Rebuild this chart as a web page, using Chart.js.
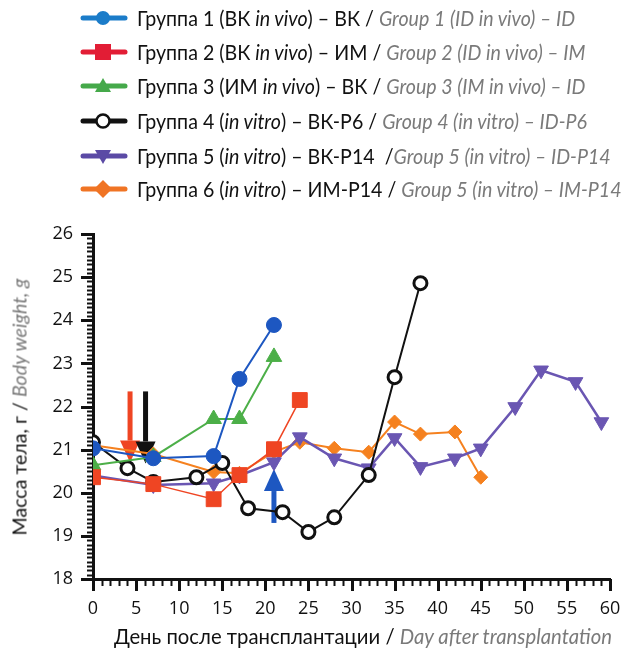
<!DOCTYPE html>
<html><head><meta charset="utf-8">
<script src="https://cdn.jsdelivr.net/npm/chart.js@4"></script>
<style>
html,body{margin:0;padding:0;background:#fff;}
#wrap{position:relative;width:623px;height:650px;overflow:hidden;font-family:Lato,"Open Sans",sans-serif;color:#111;}
#c{position:absolute;left:0;top:0;}
.row{position:absolute;left:80px;height:34px;display:flex;align-items:center;white-space:nowrap;font-size:20.5px;}
.row svg{margin-right:9px;flex:none}
.row .txt{display:inline-block;transform:scaleX(0.956);transform-origin:0 50%;}
.en{color:#7a7a7a;font-style:italic}
.ytitle{position:absolute;left:19px;top:407px;transform:translate(-50%,-50%) rotate(-90deg);white-space:nowrap;font-size:19.6px;}
.xtitle{position:absolute;left:363px;top:636px;transform:translate(-50%,-50%);white-space:nowrap;font-size:20.3px;}
</style></head>
<body>
<div id="wrap">
<canvas id="c" width="623" height="650"></canvas>
<div id="legend"></div>
<div class="ytitle">Масса тела, г / <span class="en">Body weight, g</span></div>
<div class="xtitle">День после трансплантации / <span class="en">Day after transplantation</span></div>
</div>
<script>
// ---- data ----
const daysG1 = [0, 7, 14, 17, 21];
const massG1 = [21.03, 20.80, 20.85, 22.64, 23.89];
const daysG2 = [0, 7, 14, 17, 21, 24];
const massG2 = [20.36, 20.20, 19.85, 20.41, 21.01, 22.15];
const daysG3 = [0, 7, 14, 17, 21];
const massG3 = [20.64, 20.83, 21.71, 21.71, 23.15];
const daysG4 = [0, 4, 7, 12, 15, 18, 22, 25, 28, 32, 35, 38];
const massG4 = [21.17, 20.57, 20.25, 20.36, 20.69, 19.64, 19.55, 19.09, 19.43, 20.41, 22.68, 24.86];
const daysG5 = [0, 7, 14, 17, 21, 24, 28, 32, 35, 38, 42, 45, 49, 52, 56, 59];
const massG5 = [20.40, 20.18, 20.22, 20.40, 20.71, 21.29, 20.80, 20.57, 21.27, 20.60, 20.80, 21.03, 21.99, 22.84, 22.57, 21.64];
const daysG6 = [0, 7, 14, 17, 21, 24, 28, 32, 35, 38, 42, 45];
const massG6 = [21.10, 20.90, 20.48, 20.45, 20.95, 21.17, 21.03, 20.94, 21.64, 21.36, 21.41, 20.36];

const ruLabels = ['Группа 1 (ВК <i>in vivo</i>) – ВК', 'Группа 2 (ВК <i>in vivo</i>) – ИМ', 'Группа 3 (ИМ <i>in vivo</i>) – ВК',
  'Группа 4 (<i>in vitro</i>) – ВК-Р6', 'Группа 5 (<i>in vitro</i>) – ВК-Р14', 'Группа 6 (<i>in vitro</i>) – ИМ-Р14'];
const enLabels = ['Group 1 (ID in vivo) – ID', 'Group 2 (ID in vivo) – IM', 'Group 3 (IM in vivo) – ID',
  'Group 4 (in vitro) – ID-P6', 'Group 5 (in vitro) – ID-P14', 'Group 5 (in vitro) – IM-P14'];
const xTickValues = [0, 5, 10, 15, 20, 25, 30, 35, 40, 45, 50, 55, 60];
const yTickValues = [18, 19, 20, 21, 22, 23, 24, 25, 26];

// arrows (treatment marks): day, from value, to value
const arrowDays = [4.3, 6.1, 21];
const arrowFrom = [22.35, 22.35, 19.3];
const arrowTo = [20.70, 20.68, 20.55];

// ---- styles ----
const plotColors = ['#1d57c1', '#ef4523', '#4caf48', '#111111', '#6a56b2', '#f5811f'];
const legendColors = ['#1b7cc9', '#e21d35', '#45a94a', '#111111', '#5b4aa5', '#f07424'];
const arrowColors = ['#ef4523', '#111111', '#1d57c1'];

const pts = (d, m) => d.map((x, i) => ({x, y: m[i]}));
const series = [[daysG1, massG1], [daysG2, massG2], [daysG3, massG3], [daysG4, massG4], [daysG5, massG5], [daysG6, massG6]];
const styles = [
  {pointStyle: 'circle', r: 7.5, lw: 2},
  {pointStyle: 'rect', r: 10.5, lw: 1.5},
  {pointStyle: 'triangle', r: 9, lw: 2},
  {pointStyle: 'circle', r: 6.5, lw: 2},
  {pointStyle: 'triangle', r: 8.5, lw: 2.5, rot: 180},
  {pointStyle: 'rectRot', r: 7, lw: 2}
];

const datasets = series.map((s, i) => {
  const st = styles[i];
  const open = i === 3;
  return {
    label: enLabels[i],
    data: pts(s[0], s[1]),
    borderColor: plotColors[i],
    borderWidth: st.lw,
    backgroundColor: open ? '#ffffff' : plotColors[i],
    pointBackgroundColor: open ? '#ffffff' : plotColors[i],
    pointBorderColor: plotColors[i],
    pointBorderWidth: open ? 3 : 1,
    pointStyle: st.pointStyle,
    pointRadius: st.r,
    pointRotation: st.rot || 0,
    tension: 0,
    fill: false
  };
});

// legend (HTML)
const legEl = document.getElementById('legend');
const rowCenters = [18, 52, 86, 121, 156, 189];
ruLabels.forEach((ru, i) => {
  const c = legendColors[i];
  let mk = '';
  if (i === 0) mk = `<circle cx="23" cy="10" r="7" fill="${c}"/>`;
  if (i === 1) mk = `<rect x="15" y="2" width="16" height="16" fill="${c}"/>`;
  if (i === 2) mk = `<polygon points="23,2 31,16 15,16" fill="${c}"/>`;
  if (i === 3) mk = `<circle cx="23" cy="10" r="6.5" fill="#fff" stroke="${c}" stroke-width="2.5"/>`;
  if (i === 4) mk = `<polygon points="15,4 31,4 23,18" fill="${c}"/>`;
  if (i === 5) mk = `<polygon points="23,1 32,10 23,19 14,10" fill="${c}"/>`;
  const svg = `<svg width="48" height="20" viewBox="0 0 48 20"><line x1="3" y1="10" x2="45" y2="10" stroke="${c}" stroke-width="5" stroke-linecap="round"/>${mk}</svg>`;
  const sep = i === 4 ? '&nbsp; /' : ' / ';
  const d = document.createElement('div');
  d.className = 'row';
  d.style.top = (rowCenters[i] - 17) + 'px';
  d.innerHTML = svg + `<span class="txt">${ru}${sep}<span class="en">${enLabels[i]}</span></span>`;
  legEl.appendChild(d);
});

const axisTicks = {
  id: 'axisTicks',
  afterDraw(chart) {
    const ctx = chart.ctx, xs = chart.scales.x, ys = chart.scales.y, a = chart.chartArea;
    ctx.save();
    ctx.strokeStyle = '#111';
    for (let i = 0; i <= 80; i++) {
      const py = Math.round(ys.getPixelForValue(18 + i / 10)) + 0.5;
      const major = i % 10 === 0;
      ctx.lineWidth = major ? 3 : 2;
      ctx.beginPath();
      ctx.moveTo(a.left, py);
      ctx.lineTo(a.left - (major ? 12 : 6), py);
      ctx.stroke();
    }
    for (let d = 0; d <= 60; d++) {
      const px = Math.round(xs.getPixelForValue(d)) + 0.5;
      const major = d % 5 === 0;
      ctx.lineWidth = major ? 3 : 2;
      ctx.beginPath();
      ctx.moveTo(px, a.bottom);
      ctx.lineTo(px, a.bottom + (major ? 12 : 7));
      ctx.stroke();
    }
    ctx.restore();
  }
};

const arrowsPlugin = {
  id: 'arrows',
  beforeDatasetsDraw(chart) {
    const ctx = chart.ctx, xs = chart.scales.x, ys = chart.scales.y;
    ctx.save();
    arrowDays.forEach((d, i) => {
      const x = xs.getPixelForValue(d);
      const y0 = ys.getPixelForValue(arrowFrom[i]);
      const y1 = ys.getPixelForValue(arrowTo[i]);
      const dir = y1 > y0 ? 1 : -1;
      const head = 22, hw = 10;
      ctx.fillStyle = arrowColors[i];
      ctx.strokeStyle = arrowColors[i];
      ctx.lineWidth = 5;
      ctx.beginPath();
      ctx.moveTo(x, y0);
      ctx.lineTo(x, y1 - dir * head);
      ctx.stroke();
      ctx.beginPath();
      ctx.moveTo(x, y1);
      ctx.lineTo(x - hw, y1 - dir * head);
      ctx.lineTo(x + hw, y1 - dir * head);
      ctx.closePath();
      ctx.fill();
    });
    ctx.restore();
  }
};

new Chart(document.getElementById('c'), {
  type: 'line',
  data: {datasets},
  options: {
    responsive: false,
    animation: false,
    devicePixelRatio: 1,
    layout: {padding: {top: 234, right: 13, left: 0, bottom: 0}},
    plugins: {legend: {display: false}, tooltip: {enabled: false}, title: {display: false}},
    scales: {
      x: {
        type: 'linear', min: 0, max: 60,
        afterBuildTicks: s => { s.ticks = xTickValues.map(v => ({value: v})); },
        afterFit: s => { s.height = 71; s.paddingLeft = 0; s.paddingRight = 0; },
        grid: {display: false, drawTicks: false},
        border: {display: true, color: '#111', width: 3},
        ticks: {padding: 19, color: '#111', font: {family: '"Open Sans", sans-serif', size: 18}, maxRotation: 0, autoSkip: false}
      },
      y: {
        type: 'linear', min: 18, max: 26,
        afterBuildTicks: s => { s.ticks = yTickValues.map(v => ({value: v})); },
        afterFit: s => { s.width = 93; s.paddingTop = 0; s.paddingBottom = 0; },
        grid: {display: false, drawTicks: false},
        border: {display: true, color: '#111', width: 3},
        ticks: {padding: 20, color: '#111', font: {family: '"Open Sans", sans-serif', size: 18}}
      }
    }
  },
  plugins: [arrowsPlugin, axisTicks]
});
</script>
</body></html>
